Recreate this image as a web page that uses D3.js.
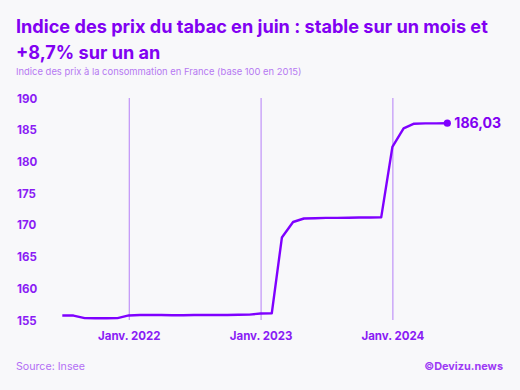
<!DOCTYPE html>
<html><head><meta charset="utf-8">
<script src="https://cdn.jsdelivr.net/npm/d3@7"></script>
<style>
html,body{margin:0;padding:0;background:#f8f8fa;}
svg{display:block;font-family:Inter,"Noto Sans",sans-serif;}
</style></head>
<body><svg id="c" width="520" height="390"></svg>
<script>
const months = ["2021-07","2021-08","2021-09","2021-10","2021-11","2021-12",
"2022-01","2022-02","2022-03","2022-04","2022-05","2022-06","2022-07","2022-08","2022-09","2022-10","2022-11","2022-12",
"2023-01","2023-02","2023-03","2023-04","2023-05","2023-06","2023-07","2023-08","2023-09","2023-10","2023-11","2023-12",
"2024-01","2024-02","2024-03","2024-04","2024-05","2024-06"];
const values = [155.72,155.70,155.30,155.28,155.28,155.30,
155.72,155.78,155.78,155.78,155.76,155.76,155.78,155.80,155.80,155.80,155.82,155.85,
156.02,156.05,168.00,170.45,171.00,171.05,171.10,171.10,171.12,171.15,171.15,171.18,
182.30,185.20,185.95,186.00,186.00,186.03];
const yTicks = [155,160,165,170,175,180,185,190];
const xTicks = ["2022-01","2023-01","2024-01"];
const xTickLabels = ["Janv. 2022","Janv. 2023","Janv. 2024"];
const title = ["Indice des prix du tabac en juin : stable sur un mois et","+8,7% sur un an"];
const subtitle = "Indice des prix à la consommation en France (base 100 en 2015)";
const source = "Source: Insee";
const credit = "©Devizu.news";
const endLabel = "186,03";

const parse = d3.timeParse("%Y-%m");
const data = months.map((m,i)=>({d:parse(m), v:values[i]}));
const svg = d3.select("#c");
const purple = "#7f00ff";

function fit(sel, size, target){
  sel.attr("font-size", size);
  const w = sel.node().getComputedTextLength();
  sel.attr("font-size", size*target/w);
}

const x = d3.scaleTime().domain([parse("2021-07"), parse("2024-06")]).range([62.3, 447.3]);
const y = d3.scaleLinear().domain([155,190]).range([320,98]);

svg.append("rect").attr("width",520).attr("height",390).attr("fill","#f8f8fa");

// title
const t1 = svg.append("text").attr("x",16).attr("y",33).attr("fill","#8100f2").attr("font-weight",700).text(title[0]);
fit(t1, 19, 472);
const fs = +t1.attr("font-size");
svg.append("text").attr("x",16).attr("y",59.3).attr("fill","#8100f2").attr("font-weight",700).attr("font-size",fs).text(title[1]);
const st = svg.append("text").attr("x",16).attr("y",74.5).attr("fill","#b679f2").text(subtitle);
fit(st, 10.5, 286);

// vertical gridlines
const xg = svg.append("g").attr("transform","translate(0,320)")
  .call(d3.axisBottom(x).tickValues(xTicks.map(parse)).tickSize(-222).tickFormat((d,i)=>xTickLabels[i]));
xg.select(".domain").remove();
xg.selectAll(".tick line").attr("stroke","#b57ff7").attr("stroke-width",1);
xg.selectAll(".tick text").attr("fill","#8a1cf5").attr("font-weight",700).attr("font-size",11.5)
  .attr("font-family",'Inter,"Noto Sans",sans-serif').attr("dy",0).attr("y",20);

// y axis labels
const yg = svg.append("g").attr("transform","translate(17,0)")
  .call(d3.axisLeft(y).tickValues(yTicks).tickSize(0).tickPadding(0));
yg.select(".domain").remove();
yg.selectAll(".tick text").attr("text-anchor","start").attr("fill","#8a1cf5").attr("font-weight",700)
  .attr("font-size",11.5).attr("font-family",'Inter,"Noto Sans",sans-serif').attr("dy","0.36em");

// line
svg.append("path").datum(data).attr("fill","none").attr("stroke",purple).attr("stroke-width",2.4)
  .attr("stroke-linejoin","round").attr("d",d3.line().x(d=>x(d.d)).y(d=>y(d.v)));
const last = data[data.length-1];
svg.append("circle").attr("cx",x(last.d)).attr("cy",y(last.v)).attr("r",3.6).attr("fill",purple);
const el = svg.append("text").attr("x",x(last.d)+7).attr("y",y(last.v)+5).attr("fill","#8100f2")
  .attr("font-weight",700).text(endLabel);
fit(el, 14, 47);

// footer
const so = svg.append("text").attr("x",16).attr("y",370).attr("fill","#b36ef5").text(source);
fit(so, 12, 69);
const cr = svg.append("text").attr("x",503).attr("y",370).attr("text-anchor","end").attr("fill","#9d3af5")
  .attr("font-weight",700).text(credit);
fit(cr, 12, 79);
</script></body></html>
